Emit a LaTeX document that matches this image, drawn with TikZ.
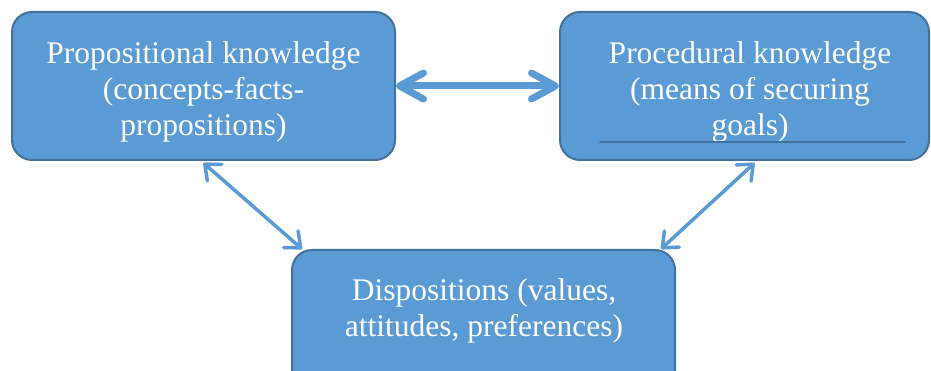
\documentclass[tikz,border=0pt]{standalone}
\usepackage{fontspec}
\setmainfont{Liberation Serif}
\usetikzlibrary{arrows.meta,calc}
\definecolor{boxfill}{HTML}{5B9BD5}
\definecolor{boxline}{HTML}{41719C}
\begin{document}
\begin{tikzpicture}[x=1pt,y=-1pt,
  kbox/.style={draw=boxline, line width=2pt, fill=boxfill, rounded corners=20pt, inner sep=0pt},
  ktext/.style={text=white, align=center, font=\fontsize{31.5}{36}\selectfont, inner sep=0pt},
  bigarrow/.style={draw=boxfill, line width=7pt, line cap=round,
    {Straight Barb[length=24pt,width=26pt,round]}-{Straight Barb[length=24pt,width=26pt,round]}},
  thinarrow/.style={draw=boxfill, line width=3.5pt,
    {Straight Barb[length=13pt,width=22pt,round]}-{Straight Barb[length=13pt,width=22pt,round]}}
]
\clip (0,0) rectangle (931,371);
\useasboundingbox (0,0) rectangle (931,371);
\node[kbox, minimum width=383pt, minimum height=148pt] (L) at (203.5,86) {};
\node[ktext] (Lt) at (203.5,92) {Propositional knowledge\\(concepts-facts-\\propositions)};
\node[kbox, minimum width=369pt, minimum height=148pt] (R) at (744.5,86) {};
\node[ktext] (Rt) at (750,92) {Procedural knowledge\\(means of securing\\goals)};
\draw[boxline, line width=2pt, line cap=round] (600,142) -- (905,142);
\node[kbox, minimum width=383pt, minimum height=150pt] (B) at (483.5,325) {};
\node[ktext] (Bt) at (484,311) {Dispositions (values,\\attitudes, preferences)};
\draw[bigarrow] (L.east) -- (R.west);
\draw[thinarrow] ($(L.south)+(0,2)$) -- ($(B.north west)+(11,0)$);
\draw[thinarrow] ($(R.south)+(10,2)$) -- ($(B.north east)+(-15,0)$);
\end{tikzpicture}
\end{document}
